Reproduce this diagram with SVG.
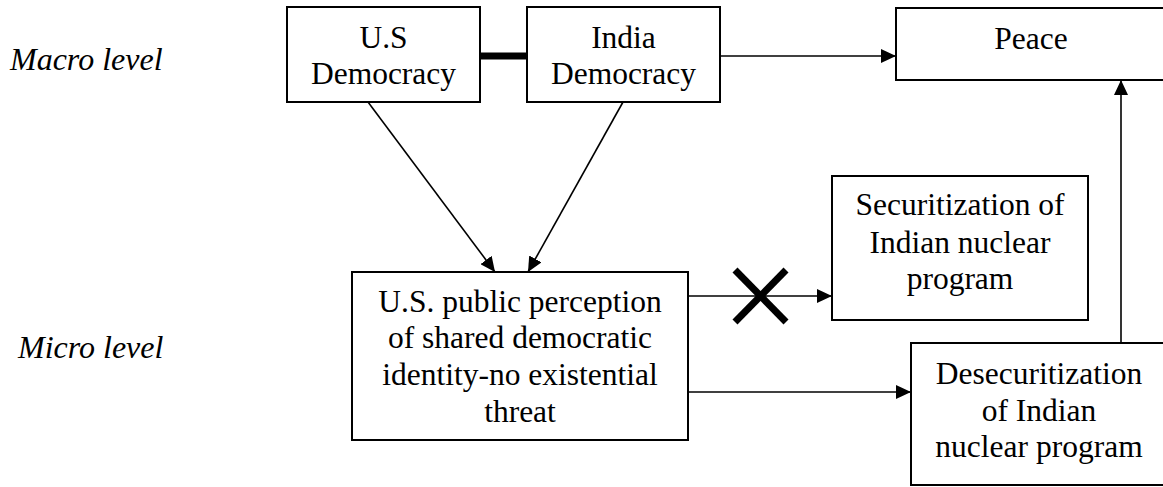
<svg xmlns="http://www.w3.org/2000/svg" width="1163" height="487" viewBox="0 0 1163 487">
<style>
.box{fill:#fff;stroke:#000;stroke-width:2}
.t{font-family:'Liberation Serif','Times New Roman',Tinos,'DejaVu Serif',serif;font-size:31.5px;fill:#000;text-anchor:middle}
.lbl{font-family:'Liberation Serif','Times New Roman',Tinos,'DejaVu Serif',serif;font-size:32px;font-style:italic;fill:#000}
.ln{stroke:#000;stroke-width:1.6;fill:none}
</style>
<defs>
<marker id="ah" markerUnits="userSpaceOnUse" markerWidth="16" markerHeight="14" refX="15" refY="7" orient="auto">
<path d="M0,0 L15,7 L0,14 Z" fill="#000"/>
</marker>
</defs>
<rect width="1163" height="487" fill="#fff"/>
<text class="lbl" x="10" y="70">Macro level</text>
<text class="lbl" x="18" y="358">Micro level</text>
<g id="connectors">
<line x1="480" y1="56" x2="527" y2="56" stroke="#000" stroke-width="7"/>
<line class="ln" x1="720" y1="56" x2="896" y2="56" marker-end="url(#ah)"/>
<line class="ln" x1="368" y1="102" x2="495" y2="272" marker-end="url(#ah)"/>
<line class="ln" x1="623" y1="102" x2="528" y2="272" marker-end="url(#ah)"/>
<line class="ln" x1="688" y1="296" x2="832" y2="296" marker-end="url(#ah)"/>
<line class="ln" x1="688" y1="392" x2="911" y2="392" marker-end="url(#ah)"/>
<line class="ln" x1="1121" y1="343" x2="1121" y2="80" marker-end="url(#ah)"/>
<g id="cross" stroke="#000" stroke-width="7">
<line x1="735" y1="270" x2="786" y2="322"/>
<line x1="786" y1="270" x2="735" y2="322"/>
</g>
</g>
<g id="us">
<rect class="box" x="287" y="7" width="193" height="95"/>
<text class="t" x="383.5" y="48">U.S</text>
<text class="t" x="383.5" y="84">Democracy</text>
</g>
<g id="india">
<rect class="box" x="527" y="7" width="193" height="95"/>
<text class="t" x="623.5" y="48">India</text>
<text class="t" x="623.5" y="84">Democracy</text>
</g>
<g id="peace">
<rect class="box" x="896" y="8" width="280" height="72"/>
<text class="t" x="1031" y="49">Peace</text>
</g>
<g id="perception">
<rect class="box" x="352" y="272" width="336" height="168"/>
<text class="t" x="520" y="312">U.S. public perception</text>
<text class="t" x="520" y="348">of shared democratic</text>
<text class="t" x="520" y="385">identity-no existential</text>
<text class="t" x="520" y="422">threat</text>
</g>
<g id="securitization">
<rect class="box" x="832" y="176" width="256" height="144"/>
<text class="t" x="960" y="215">Securitization of</text>
<text class="t" x="960" y="253">Indian nuclear</text>
<text class="t" x="960" y="289">program</text>
</g>
<g id="desecuritization">
<rect class="box" x="911" y="343" width="270" height="142"/>
<text class="t" x="1039" y="384">Desecuritization</text>
<text class="t" x="1039" y="421">of Indian</text>
<text class="t" x="1039" y="457">nuclear program</text>
</g>
</svg>
